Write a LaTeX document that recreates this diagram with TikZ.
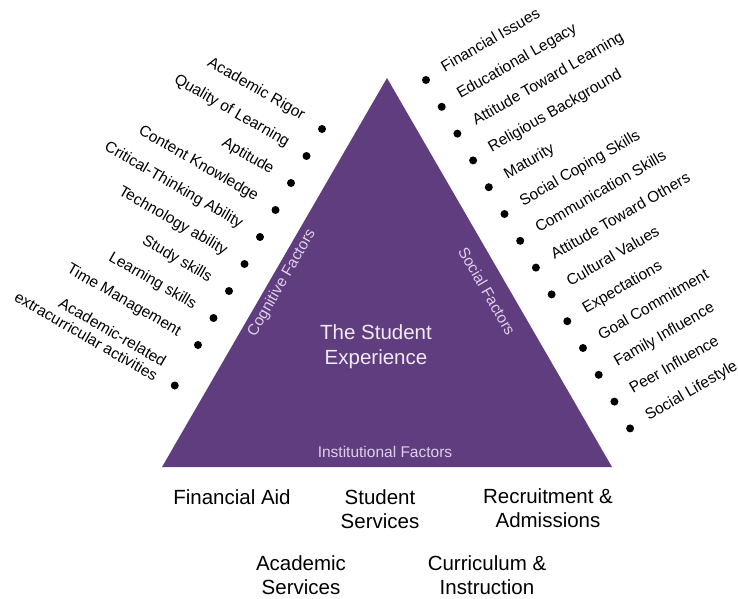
\documentclass[tikz,border=0pt]{standalone}
\usepackage{fontspec}
\setmainfont{Liberation Sans}
\usetikzlibrary{calc}
\definecolor{triviolet}{RGB}{95,61,126}
\definecolor{trilabel}{RGB}{222,208,234}
\definecolor{trititle}{RGB}{240,234,244}
\tikzset{
  item/.style={font=\fontsize{15.5}{17}\selectfont, inner sep=0pt},
  factor/.style={font=\fontsize{15.5}{17}\selectfont, text=trilabel, inner sep=0pt},
  area/.style={font=\fontsize{20.5}{24}\selectfont, align=center, inner sep=0pt},
}
\begin{document}
\begin{tikzpicture}[x=1pt, y=1pt]
    \useasboundingbox (0,0) rectangle (738,-598);
    \coordinate (top) at (387,-78);
    \coordinate (bl) at (162,-467);
    \coordinate (br) at (612,-467);

    % The triangle
    \fill[triviolet] (top) -- (bl) -- (br) -- cycle;

    \node[area, text=trititle, font=\fontsize{20.5}{25}\selectfont] (exp) at (376,-347) {The Student\\Experience};
    \node[factor, rotate=60] (cog) at (282,-283) {Cognitive Factors};
    \node[factor, rotate=-60] (soc) at (487,-291) {Social Factors};
    \node[factor] (inst) at (385,-452) {Institutional Factors};

    % Cognitive list
    \foreach \i/\txt in {0/Academic Rigor, 1/Quality of Learning, 2/Aptitude, 3/Content Knowledge,
        4/Critical-Thinking Ability, 5/Technology ability, 6/Study skills, 7/Learning skills, 8/Time Management}
    {
        \coordinate (l\i) at ($(322,-129)+\i*(-15.5,-27)$);
        \fill (l\i) circle (4pt);
        \node[item, rotate=-30, anchor=mid east] (lt\i) at ($(l\i)+(150:22)$) {\txt};
    }
    \coordinate (l9) at ($(322,-129)+9.5*(-15.5,-27)$);
    \fill (l9) circle (4pt);
    \node[item, rotate=-30, anchor=south east, align=right] (lt9) at ($(l9)+(150:20)+(-120:7.5)$) {Academic-related\\extracurricular activities};

    % Social list
    \foreach \i/\txt in {0/Financial Issues, 1/Educational Legacy, 2/Attitude Toward Learning, 3/Religious Background,
        4/Maturity, 5/Social Coping Skills, 6/Communication Skills, 7/Attitude Toward Others, 8/Cultural Values,
        9/Expectations, 10/Goal Commitment, 11/Family Influence, 12/Peer Influence, 13/Social Lifestyle}
    {
        \coordinate (r\i) at ($(426,-80)+\i*(15.7,-26.8)$);
        \fill (r\i) circle (4pt);
        \node[item, rotate=30, anchor=mid west] (rt\i) at ($(r\i)+(30:20)$) {\txt};
    }

    % Institutional areas
    \node[area] (aid) at (232,-497.5) {Financial Aid};
    \node[area] (stu) at (380,-509.5) {Student\\Services};
    \node[area] (rec) at (548,-508) {Recruitment \&\\Admissions};
    \node[area] (aca) at (301,-575.5) {Academic\\Services};
    \node[area] (cur) at (487,-575.5) {Curriculum \&\\Instruction};
\end{tikzpicture}
\end{document}
